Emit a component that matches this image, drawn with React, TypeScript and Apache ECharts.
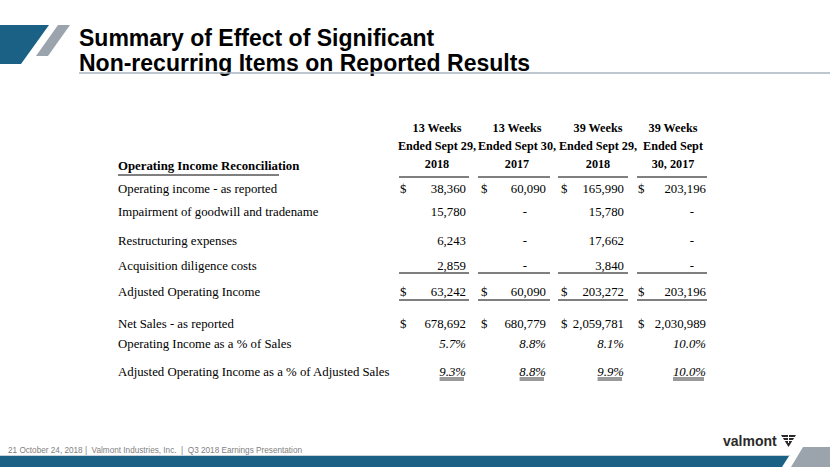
import React, { useEffect, useRef } from "react";
import * as echarts from "echarts";

const titleLines = ["Summary of Effect of Significant", "Non-recurring Items on Reported Results"];
const sectionHeader = "Operating Income Reconciliation";
const colHeaders = [
  ["13 Weeks", "Ended Sept 29,", "2018"],
  ["13 Weeks", "Ended Sept 30,", "2017"],
  ["39 Weeks", "Ended Sept 29,", "2018"],
  ["39 Weeks", "Ended Sept", "30, 2017"],
];
const rowLabels = [
  "Operating income - as reported",
  "Impairment of goodwill and tradename",
  "Restructuring expenses",
  "Acquisition diligence costs",
  "Adjusted Operating Income",
  "Net Sales - as reported",
  "Operating Income as a % of Sales",
  "Adjusted Operating Income as a % of Adjusted Sales",
];
const col13w2018 = ["38,360", "15,780", "6,243", "2,859", "63,242", "678,692", "5.7%", "9.3%"];
const col13w2017 = ["60,090", "-", "-", "-", "60,090", "680,779", "8.8%", "8.8%"];
const col39w2018 = ["165,990", "15,780", "17,662", "3,840", "203,272", "2,059,781", "8.1%", "9.9%"];
const col39w2017 = ["203,196", "-", "-", "-", "203,196", "2,030,989", "10.0%", "10.0%"];
const dollarRows = [0, 4, 5];
const percentRows = [6, 7];
const footerText = "21 October 24, 2018 |  Valmont Industries, Inc.  |  Q3 2018 Earnings Presentation";

export default function App() {
  const ref = useRef<HTMLDivElement>(null);
  useEffect(() => {
    if (!ref.current) return;
    const chart = echarts.init(ref.current, undefined, { renderer: "svg" });
    const serif = "'Liberation Serif', 'Times New Roman', serif";
    const sans = "'Liberation Sans', Arial, sans-serif";
    const blue = "#1b6185";
    const grey = "#9ba4ac";
    const cols = [col13w2018, col13w2017, col39w2018, col39w2017];
    const colCenters = [437, 517, 598, 673];
    const dollarX = [400, 481, 561, 638];
    const valRight = [466, 546, 624, 706];
    const dashRight = [0, 527, 0, 694];
    const lineSeg = [
      [399, 469],
      [478, 550],
      [558, 628],
      [637, 707],
    ];
    const rowY = [189, 212, 241, 266, 292, 324, 344, 372];
    const els: any[] = [];

    // title decoration
    els.push({ type: "polygon", shape: { points: [[0, 25], [49, 25], [21, 64], [0, 64]] }, style: { fill: blue } });
    els.push({ type: "polygon", shape: { points: [[58, 25], [70, 25], [48, 56], [36, 56]] }, style: { fill: grey } });
    titleLines.forEach((t, i) => {
      els.push({
        type: "text",
        style: { text: t, x: 79, y: 38 + i * 25, font: `bold 23px ${sans}`, fill: "#000", textAlign: "left", textVerticalAlign: "middle" },
      });
    });
    els.push({ type: "line", shape: { x1: 79, y1: 73, x2: 830, y2: 73 }, style: { stroke: "#a9b5c0", lineWidth: 1.5 } });

    // headers
    colHeaders.forEach((h, c) => {
      h.forEach((t, k) => {
        els.push({
          type: "text",
          style: { text: t, x: colCenters[c], y: 128 + k * 18, font: `bold 12.2px ${serif}`, fill: "#000", textAlign: "center", textVerticalAlign: "middle" },
        });
      });
      els.push({ type: "line", shape: { x1: lineSeg[c][0], y1: 177, x2: lineSeg[c][1], y2: 177 }, style: { stroke: "#000", lineWidth: 1 } });
    });
    els.push({
      type: "text",
      style: { text: sectionHeader, x: 118, y: 166, font: `bold 12.8px ${serif}`, fill: "#000", textAlign: "left", textVerticalAlign: "middle" },
    });
    els.push({ type: "line", shape: { x1: 118, y1: 175, x2: 279, y2: 175 }, style: { stroke: "#000", lineWidth: 1 } });

    // rows
    rowLabels.forEach((lab, r) => {
      els.push({
        type: "text",
        style: { text: lab, x: 118, y: rowY[r], font: `12.8px ${serif}`, fill: "#000", textAlign: "left", textVerticalAlign: "middle" },
      });
      cols.forEach((col, c) => {
        const v = col[r];
        const isPct = percentRows.indexOf(r) >= 0;
        const isDash = v === "-";
        els.push({
          type: "text",
          style: {
            text: v,
            x: isDash ? dashRight[c] : valRight[c],
            y: rowY[r],
            font: `${isPct ? "italic " : ""}12.8px ${serif}`,
            fill: "#000",
            textAlign: "right",
            textVerticalAlign: "middle",
          },
        });
        if (dollarRows.indexOf(r) >= 0) {
          els.push({
            type: "text",
            style: { text: "$", x: dollarX[c], y: rowY[r], font: `12.8px ${serif}`, fill: "#000", textAlign: "left", textVerticalAlign: "middle" },
          });
        }
        if (r === 7) {
          const w = v.length * 6.6;
          [378, 380].forEach((yy) =>
            els.push({ type: "line", shape: { x1: valRight[c] - w, y1: yy, x2: valRight[c] - 2, y2: yy }, style: { stroke: "#000", lineWidth: 0.8 } })
          );
        }
      });
    });
    [273, 300].forEach((yy) => {
      lineSeg.forEach((s) => {
        els.push({ type: "line", shape: { x1: s[0], y1: yy, x2: s[1], y2: yy }, style: { stroke: "#000", lineWidth: 1 } });
      });
    });

    // footer
    els.push({
      type: "text",
      style: { text: footerText, x: 8, y: 450, font: `8.2px ${sans}`, fill: "#7f7f7f", textAlign: "left", textVerticalAlign: "middle" },
    });
    els.push({ type: "line", shape: { x1: 0, y1: 455.5, x2: 790, y2: 455.5 }, style: { stroke: "#c9d3dc", lineWidth: 1 } });
    els.push({ type: "polygon", shape: { points: [[0, 456], [789, 456], [782, 467], [0, 467]] }, style: { fill: blue } });
    els.push({ type: "polygon", shape: { points: [[803, 447], [830, 447], [830, 467], [791, 467]] }, style: { fill: grey } });
    els.push({
      type: "text",
      style: { text: "valmont", x: 723, y: 441, font: `bold 14px ${sans}`, fill: "#2a2a2a", textAlign: "left", textVerticalAlign: "middle" },
    });
    // logo mark
    els.push({ type: "polygon", shape: { points: [[781, 435], [796, 435], [788.5, 447]] }, style: { fill: "#2a2a2a" } });
    [437.5, 440.5].forEach((yy) =>
      els.push({ type: "line", shape: { x1: 781, y1: yy, x2: 796, y2: yy }, style: { stroke: "#fff", lineWidth: 1 } })
    );
    els.push({ type: "line", shape: { x1: 788.5, y1: 435, x2: 788.5, y2: 443 }, style: { stroke: "#fff", lineWidth: 1 } });

    chart.setOption({ animation: false, graphic: { elements: els } });
    return () => chart.dispose();
  }, []);
  return <div ref={ref} style={{ position: "fixed", left: 0, top: 0, width: 830, height: 467, background: "#fff" }} />;
}
